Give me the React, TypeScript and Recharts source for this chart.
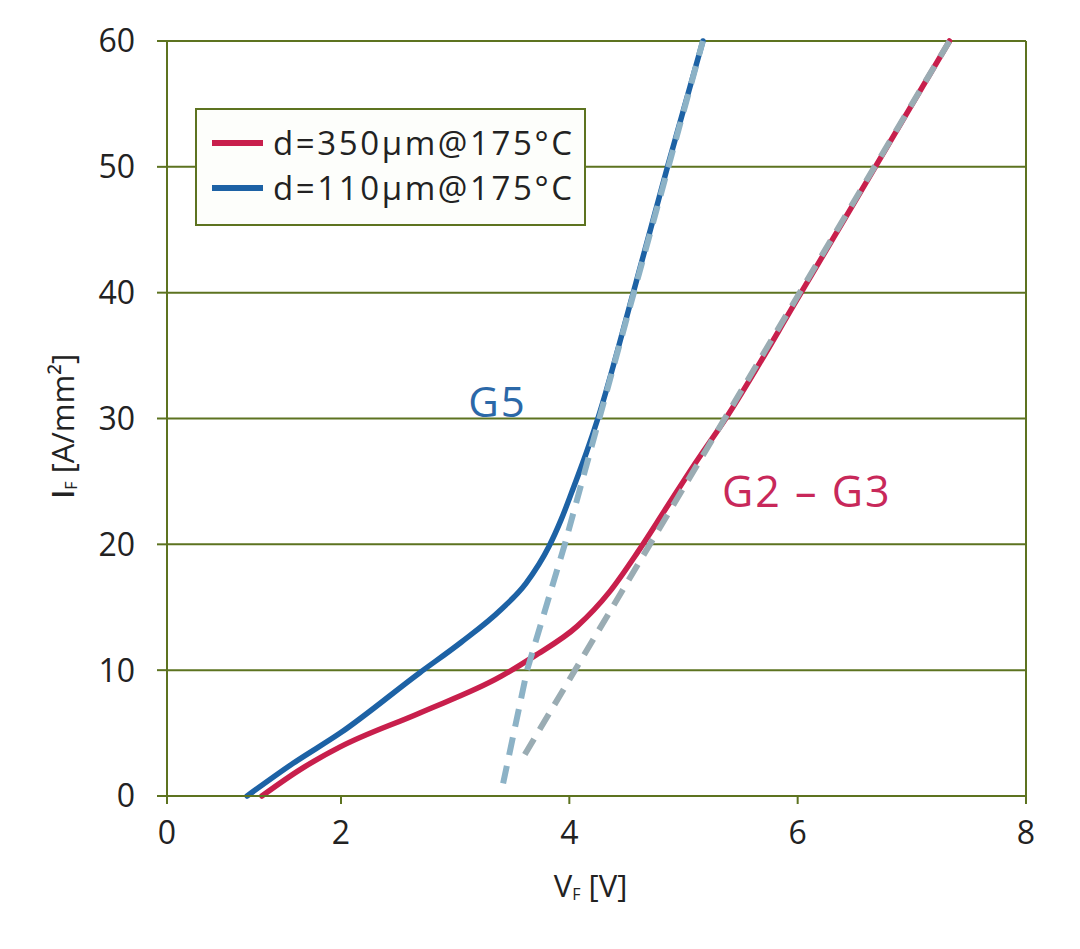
import React from "react";
import {
  LineChart,
  Line,
  XAxis,
  YAxis,
  CartesianGrid,
  Legend,
  ReferenceLine,
  ReferenceDot,
  Label,
} from "recharts";

const vfTicks = [0, 2, 4, 6, 8];
const ifTicks = [0, 10, 20, 30, 40, 50, 60];

const seriesNames = ["d=350µm@175°C", "d=110µm@175°C"];

// d=350µm (G2 - G3), forward voltage [V] vs current density [A/mm²]
const thickVf = [1.09, 1.53, 1.99, 2.69, 3.4, 3.69, 4.07, 4.35, 4.6, 4.85, 5.1, 5.37, 6.03, 6.68, 7.33];
const thickIf = [0, 2.1, 3.9, 6.6, 9.5, 11.1, 13.5, 16.2, 19.4, 22.9, 26.4, 30, 40, 50, 60];

// d=110µm (G5)
const thinVf = [0.92, 1.45, 1.99, 2.69, 3.05, 3.4, 3.62, 3.82, 3.93, 4.04, 4.15, 4.25, 4.56, 4.86, 5.17];
const thinIf = [0, 2.6, 5.0, 9.8, 12.2, 14.8, 16.9, 19.8, 22.0, 24.6, 27.3, 30, 40, 50, 60];

// linear fits (dashed)
const thickFitVf = [3.61, 7.33];
const thickFitIf = [3.3, 60];
const thinFitVf = [3.42, 3.63, 3.96, 5.17];
const thinFitIf = [1.0, 10, 20, 60];

const toPoints = (vf: number[], cur: number[]) => vf.map((v, i) => ({ vf: v, current: cur[i] }));

const FONT = "'Open Sans', 'Noto Sans', sans-serif";
const OLIVE = "#5d7320";
const RED = "#c81f4c";
const BLUE = "#1d62a5";

// the original axis squeezes the 0..2 V span; piecewise-linear scale to match
function piecewiseScale(
  breaks: number[],
  fracs: number[],
  dom: number[] = [breaks[0], breaks[breaks.length - 1]],
  rng: number[] = [0, 1]
): any {
  const toFrac = (v: number) => {
    let i = 0;
    while (i < breaks.length - 2 && v > breaks[i + 1]) i++;
    const t = (v - breaks[i]) / (breaks[i + 1] - breaks[i]);
    return fracs[i] + t * (fracs[i + 1] - fracs[i]);
  };
  const scale: any = (v: number) => rng[0] + toFrac(v) * (rng[1] - rng[0]);
  scale.domain = (d?: number[]) => {
    if (!d) return dom.slice();
    dom = d.slice();
    return scale;
  };
  scale.range = (r?: number[]) => {
    if (!r) return rng.slice();
    rng = r.slice();
    return scale;
  };
  scale.copy = () => piecewiseScale(breaks, fracs, dom.slice(), rng.slice());
  scale.ticks = () => vfTicks;
  scale.invert = (px: number) => {
    const f = (px - rng[0]) / (rng[1] - rng[0]);
    let i = 0;
    while (i < fracs.length - 2 && f > fracs[i + 1]) i++;
    const t = (f - fracs[i]) / (fracs[i + 1] - fracs[i]);
    return breaks[i] + t * (breaks[i + 1] - breaks[i]);
  };
  return scale;
}

const vfScale = piecewiseScale([0, 2, 8], [0, 174 / 859, 1]);

const renderLegend = ({ payload }: any) => {
  const items = (payload || [])
    .filter((p: any) => p.type !== "none")
    .sort((a: any, b: any) => seriesNames.indexOf(a.value) - seriesNames.indexOf(b.value));
  return (
    <div
      style={{
        boxSizing: "border-box",
        width: 391,
        height: 118,
        border: `2px solid ${OLIVE}`,
        background: "#fdfefb",
        paddingTop: 10,
        fontFamily: FONT,
      }}
    >
      {items.map((p: any) => (
        <div key={p.value} style={{ display: "flex", alignItems: "center", height: 45 }}>
          <span
            style={{ display: "inline-block", width: 51, height: 6, background: p.color, marginLeft: 15, marginRight: 10 }}
          />
          <span style={{ fontSize: 33, color: "#222", letterSpacing: 2.6 }}>{p.value}</span>
        </div>
      ))}
    </div>
  );
};

const YLabel = ({ viewBox }: any) => {
  const cx = viewBox.x + 62;
  const cy = viewBox.y + viewBox.height / 2 + 8;
  return (
    <text
      x={cx}
      y={cy}
      transform={`rotate(-90 ${cx} ${cy})`}
      textAnchor="middle"
      dominantBaseline="central"
      fontFamily={FONT}
      fontSize={31}
      fill="#222"
    >
      <tspan fontWeight={600}>I</tspan>
      <tspan fontSize={16} dy={9}>F</tspan>
      <tspan dy={-9}> [A/mm²]</tspan>
    </text>
  );
};

const XLabel = ({ viewBox }: any) => {
  const cx = viewBox.x + viewBox.width / 2 - 6;
  const cy = viewBox.y + 89;
  return (
    <text x={cx} y={cy} textAnchor="middle" dominantBaseline="central" fontFamily={FONT} fontSize={31} fill="#222">
      <tspan>V</tspan>
      <tspan fontSize={16} dy={9}>F</tspan>
      <tspan dy={-9}> [V]</tspan>
    </text>
  );
};

export default function App() {
  return (
    <div style={{ position: "absolute", left: 0, top: 0, width: 1080, height: 949, background: "#fff" }}>
      <LineChart
        width={1080}
        height={949}
        margin={{ top: 41, right: 54, bottom: 0, left: 0 }}
        style={{ fontFamily: FONT }}
      >
        <CartesianGrid vertical={false} stroke={OLIVE} strokeWidth={2} />
        <XAxis
          dataKey="vf"
          type="number"
          domain={[0, 8]}
          scale={vfScale}
          ticks={vfTicks}
          height={153}
          tickSize={8}
          tickMargin={17}
          axisLine={{ stroke: OLIVE, strokeWidth: 2 }}
          tickLine={{ stroke: OLIVE, strokeWidth: 2 }}
          tick={{ fontSize: 32, fill: "#222", fontFamily: FONT }}
          allowDataOverflow
        >
          <Label content={<XLabel />} />
        </XAxis>
        <YAxis
          dataKey="current"
          type="number"
          domain={[0, 60]}
          ticks={ifTicks}
          width={167}
          tickSize={10}
          tickMargin={22}
          axisLine={{ stroke: OLIVE, strokeWidth: 2 }}
          tickLine={{ stroke: OLIVE, strokeWidth: 2 }}
          tick={{ fontSize: 32, fill: "#222", fontFamily: FONT }}
        >
          <Label content={<YLabel />} />
        </YAxis>
        <ReferenceLine x={8} stroke={OLIVE} strokeWidth={2} />
        <Legend
          layout="vertical"
          align="center"
          verticalAlign="middle"
          wrapperStyle={{ left: 195, top: 108, width: 391, height: 118 }}
          content={renderLegend}
        />
        <Line
          data={toPoints(thickVf, thickIf)}
          dataKey="current"
          name={seriesNames[0]}
          type="monotone"
          stroke={RED}
          strokeWidth={5.5}
          strokeLinecap="round"
          dot={false}
          activeDot={false}
          isAnimationActive={false}
        />
        <Line
          data={toPoints(thinVf, thinIf)}
          dataKey="current"
          name={seriesNames[1]}
          type="monotone"
          stroke={BLUE}
          strokeWidth={5.5}
          strokeLinecap="round"
          dot={false}
          activeDot={false}
          isAnimationActive={false}
        />
        <Line
          data={toPoints(thickFitVf, thickFitIf)}
          dataKey="current"
          name="fit 350"
          type="linear"
          stroke="#9aacb3"
          strokeWidth={6}
          strokeDasharray="18 11"
          legendType="none"
          dot={false}
          activeDot={false}
          isAnimationActive={false}
        />
        <Line
          data={toPoints(thinFitVf, thinFitIf)}
          dataKey="current"
          name="fit 110"
          type="linear"
          stroke="#8cb2c6"
          strokeWidth={6}
          strokeDasharray="18 11"
          legendType="none"
          dot={false}
          activeDot={false}
          isAnimationActive={false}
        />
        <ReferenceDot
          x={3.37}
          y={31.3}
          r={0}
          label={{ value: "G5", position: "center", fill: "#2b68a8", fontSize: 42, fontFamily: FONT, letterSpacing: 2 }}
        />
        <ReferenceDot
          x={6.08}
          y={24.2}
          r={0}
          label={{ value: "G2 – G3", position: "center", fill: "#c8285a", fontSize: 43, fontFamily: FONT, letterSpacing: 2 }}
        />
      </LineChart>
    </div>
  );
}
